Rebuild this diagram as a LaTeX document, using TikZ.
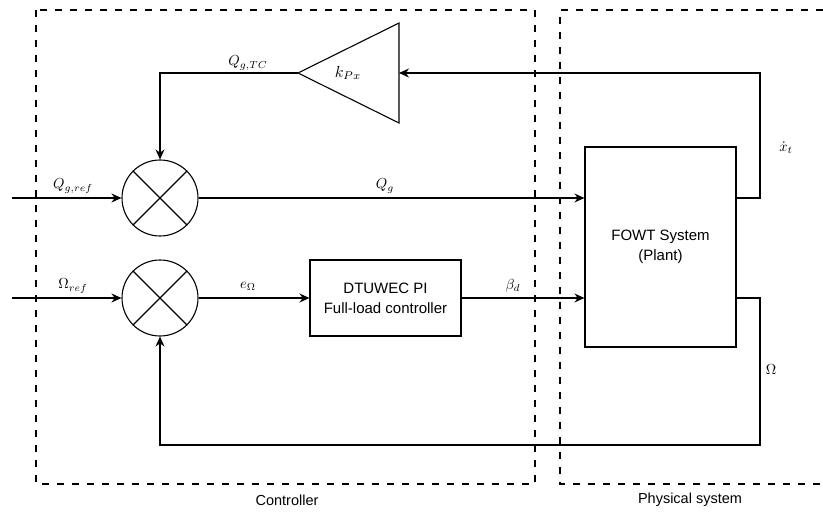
\documentclass[tikz,border=0pt]{standalone}
\usepackage{fontspec}
\setmainfont{Liberation Sans}
\usetikzlibrary{arrows.meta,calc}
\begin{document}
\begin{tikzpicture}[x=1pt,y=-1pt,
  conn/.style={line width=1.1pt,-{Stealth[length=10pt,width=9pt]}},
  plain/.style={line width=1.1pt},
  frame/.style={line width=2pt,dash pattern=on 7pt off 8pt},
  sumnode/.style={circle,draw,line width=1.1pt,minimum size=76pt,inner sep=0pt},
  blockbox/.style={draw,line width=1.1pt,inner sep=0pt,align=center,font=\fontsize{15}{18}\selectfont},
  lbl/.style={font=\fontsize{14.5}{17}\selectfont},
  mlbl/.style={scale=1.45}
]
\useasboundingbox (0,0) rectangle (823,516);
% frames
\draw[frame] (36,10) rectangle (535,484);
\draw[frame] (823,10) -- (560,10) -- (560,484) -- (823,484);
\node[lbl] (ctl) at (287,500) {Controller};
\node[lbl] (phys) at (690,500) {Physical system};
% summing junctions
\node[sumnode] (sum1) at (160,198) {};
\node[sumnode] (sum2) at (160,298) {};
\foreach \s in {sum1,sum2}{
  \draw[plain] (\s.45) -- (\s.225);
  \draw[plain] (\s.135) -- (\s.-45);
}
% blocks
\node[blockbox,minimum width=151pt,minimum height=76pt] (pi) at (385.5,298) {DTUWEC PI\\[2pt]Full-load controller};
\node[blockbox,minimum width=151pt,minimum height=200pt] (plant) at (660.5,247) {FOWT System\\[2pt](Plant)};
% gain triangle
\coordinate (gtip) at (298,73);
\coordinate (gin) at (399,73);
\draw[plain,line join=miter] (gtip) -- (399,23) -- (399,123) -- cycle;
\node[scale=1.6] (kpx) at (348,73) {$k_{Px}$};
% inputs
\coordinate (in1) at (12,198);
\coordinate (in2) at (12,298);
\coordinate (fbx) at (760,0);
\coordinate (fbbot) at (0,445);
\draw[conn] (in1) -- (sum1.west);
\draw[conn] (in2) -- (sum2.west);
\draw[conn] (sum1.east) -- (sum1 -| plant.west);
\draw[conn] (sum2.east) -- (pi.west);
\draw[conn] (pi.east) -- (pi -| plant.west);
\draw[conn] (plant.east |- sum1) -- (fbx |- sum1) -- (fbx |- gin) -- (gin);
\draw[conn] (gtip) -| (sum1.north);
\draw[conn] (plant.east |- sum2) -- (fbx |- sum2) -- (fbx |- fbbot) -| (sum2.south);
% labels
\node[mlbl] (lqref) at (73,186) {$Q_{g,ref}$};
\node[mlbl] (loref) at (73,286) {$\Omega_{ref}$};
\node[mlbl] (lqtc) at (248,63) {$Q_{g,TC}$};
\node[mlbl] (lqg) at (385,186) {$Q_g$};
\node[mlbl] (leo) at (248,286) {$e_\Omega$};
\node[mlbl] (lbd) at (513,286) {$\beta_d$};
\node[mlbl] (lxt) at (786,148) {$\dot{x}_t$};
\node[mlbl] (lom) at (771,370) {$\Omega$};
\end{tikzpicture}
\end{document}
